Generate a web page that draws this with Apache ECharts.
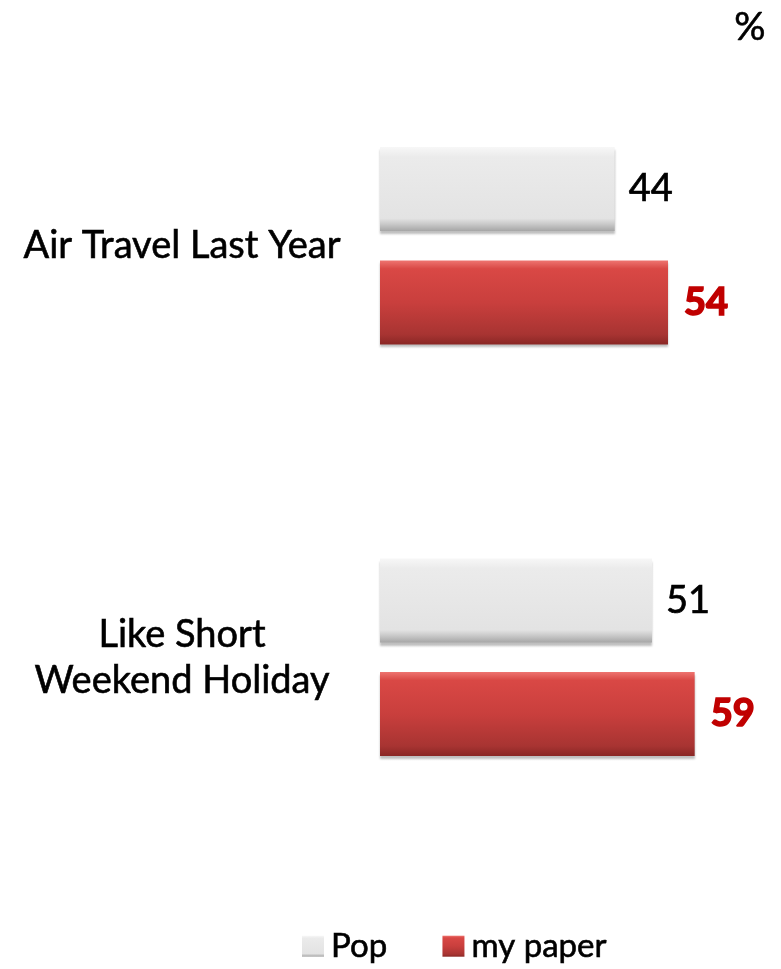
<!DOCTYPE html>
<html>
<head>
<meta charset="utf-8">
<script src="https://cdn.jsdelivr.net/npm/echarts@6/dist/echarts.min.js"></script>
<style>html,body{margin:0;padding:0;background:#fff}#chart{width:781px;height:969px}</style>
</head>
<body>
<div id="chart"></div>
<script>
const categories = ['Air Travel Last Year', 'Like Short\nWeekend Holiday'];
const popValues = [44, 51];
const paperValues = [54, 59];
const seriesNames = ['Pop', 'my paper'];
const unitLabel = '%';

const FONT = 'Lato';
const chart = echarts.init(document.getElementById('chart'));

const popGrad = new echarts.graphic.LinearGradient(0, 0, 0, 1, [
  {offset: 0, color: '#f7f7f7'}, {offset: 0.12, color: '#ebebeb'},
  {offset: 0.85, color: '#e3e3e3'}, {offset: 0.92, color: '#c8c8c8'}, {offset: 1, color: '#a6a6a6'}
]);
const redGrad = new echarts.graphic.LinearGradient(0, 0, 0, 1, [
  {offset: 0, color: '#ee7470'}, {offset: 0.1, color: '#d94845'},
  {offset: 0.5, color: '#c93f3d'}, {offset: 0.88, color: '#a83432'}, {offset: 1, color: '#8a2725'}
]);

chart.setOption({
  backgroundColor: '#ffffff',
  animation: false,
  title: {
    text: unitLabel, right: 10, top: 3,
    textStyle: {fontFamily: FONT, fontSize: 39, fontWeight: 'normal', color: '#000', textBorderColor: '#000', textBorderWidth: 0.6}
  },
  legend: {
    bottom: 1, left: 297, itemGap: 55, itemWidth: 22, itemHeight: 21,
    icon: 'rect',
    textStyle: {fontFamily: FONT, fontSize: 33, color: '#000', padding: [0, 0, 0, 2], textBorderColor: '#000', textBorderWidth: 0.6},
    data: seriesNames
  },
  grid: {left: 380, top: 40, height: 823, width: 400, outerBoundsMode: 'none', containLabel: false},
  xAxis: {type: 'value', min: 0, max: 75, show: false},
  yAxis: {
    type: 'category', inverse: true, data: categories,
    axisLine: {show: false}, axisTick: {show: false},
    axisLabel: {
      fontFamily: FONT, fontSize: 38, color: '#000', margin: 198, align: 'center',
      lineHeight: 46, textBorderColor: '#000', textBorderWidth: 0.6
    }
  },
  series: [
    {
      name: seriesNames[0], type: 'bar', data: popValues, barWidth: 84, barGap: '35%',
      itemStyle: {color: popGrad, shadowColor: 'rgba(0,0,0,0.25)', shadowOffsetY: 3, shadowBlur: 2},
      label: {show: true, position: 'right', distance: 14, fontFamily: FONT, fontSize: 38, color: '#000', fontWeight: 'normal', textBorderColor: '#000', textBorderWidth: 0.7}
    },
    {
      name: seriesNames[1], type: 'bar', data: paperValues, barWidth: 84,
      itemStyle: {color: redGrad, shadowColor: 'rgba(0,0,0,0.25)', shadowOffsetY: 3, shadowBlur: 2},
      label: {show: true, position: 'right', distance: 16, fontFamily: FONT, fontSize: 38, color: '#c00000', fontWeight: 'bold', textBorderColor: '#c00000', textBorderWidth: 1.6}
    }
  ]
});
</script>
</body>
</html>
